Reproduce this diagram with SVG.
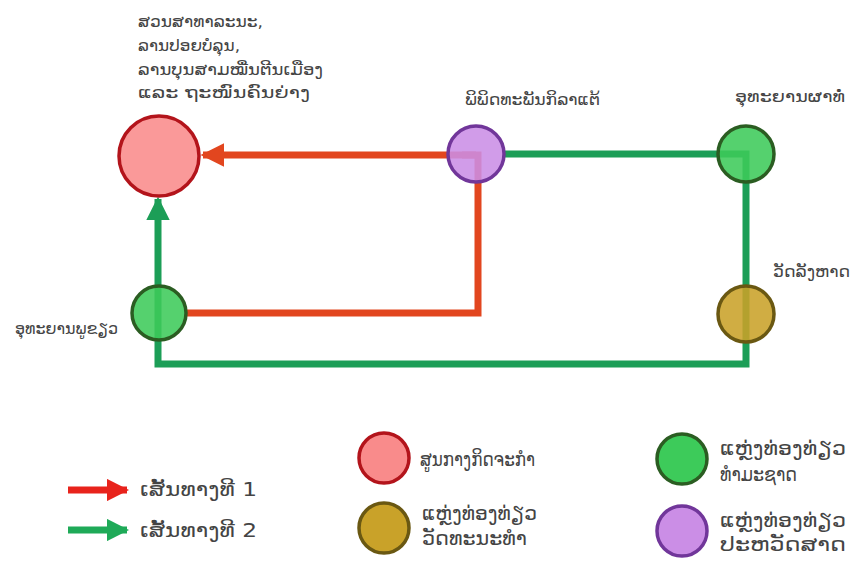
<svg xmlns="http://www.w3.org/2000/svg" width="857" height="574" viewBox="0 0 857 574">
<style>
text{font-family:"DejaVu Sans","Noto Sans",sans-serif;fill:#444}
.lbl{font-size:16px}
.leg{font-size:19px}
.r1{stroke:#e2461f;stroke-width:7;fill:none}
.r2{stroke:#1c9e57;stroke-width:7;fill:none}
.red{fill:#f98b8b;stroke:#b3141b;stroke-width:3.5}
.pur{fill:#cb8ee6;stroke:#71369a;stroke-width:3.5}
.grn{fill:#3dcb5a;stroke:#2b5d22;stroke-width:3.5}
.gld{fill:#c9a229;stroke:#6a5812;stroke-width:3.5}
.node{fill-opacity:0.88}
</style>
<defs>
<marker id="ar" viewBox="0 0 10 10" refX="9" refY="5" markerWidth="3.4" markerHeight="3.4" orient="auto"><path d="M0,0 L10,5 L0,10 Z" fill="#e2461f"/></marker>
<marker id="ag" viewBox="0 0 10 10" refX="9" refY="5" markerWidth="3.4" markerHeight="3.4" orient="auto"><path d="M0,0 L10,5 L0,10 Z" fill="#1c9e57"/></marker>
<marker id="lr" viewBox="0 0 10 10" refX="9" refY="5" markerWidth="3.2" markerHeight="3.2" orient="auto"><path d="M0,0 L10,5 L0,10 Z" fill="#e8231c"/></marker>
<marker id="lg" viewBox="0 0 10 10" refX="9" refY="5" markerWidth="3.2" markerHeight="3.2" orient="auto"><path d="M0,0 L10,5 L0,10 Z" fill="#1faa58"/></marker>
</defs>
<rect width="857" height="574" fill="#ffffff"/>
<g id="connectors">
<path class="r1" d="M476,155 L203,155" marker-end="url(#ar)"/>
<path class="r1" d="M185,313 L478,313 L478,155 L462,155"/>
<path class="r2" d="M505,154 L746,154 L746,364 L158,364 L158,199" marker-end="url(#ag)"/>
</g>
<g id="n-park">
<circle class="red node" cx="159" cy="156" r="40"/>
<text class="lbl" x="138" y="27" textLength="125" lengthAdjust="spacingAndGlyphs">ສວນສາທາລະນະ,</text>
<text class="lbl" x="138" y="51" textLength="102" lengthAdjust="spacingAndGlyphs">ລານປອຍບໍລຸນ,</text>
<text class="lbl" x="138" y="75" textLength="185" lengthAdjust="spacingAndGlyphs">ລານບຸນສາມໝື່ນຕີນເມືອງ</text>
<text class="lbl" x="138" y="98" textLength="172" lengthAdjust="spacingAndGlyphs">ແລະ ຖະໜົນຄົນຍ່າງ</text>
</g>
<g id="n-museum">
<circle class="pur node" cx="476" cy="154" r="28"/>
<text class="lbl" x="465" y="105" textLength="135" lengthAdjust="spacingAndGlyphs">ພິພິດທະພັນກິລາແຕ້</text>
</g>
<g id="n-phatho">
<circle class="grn node" cx="746" cy="154" r="28"/>
<text class="lbl" x="735" y="102" textLength="110" lengthAdjust="spacingAndGlyphs">ອຸທະຍານຜາທໍ່</text>
</g>
<g id="n-wat">
<circle class="gld node" cx="746" cy="314" r="28"/>
<text class="lbl" x="773" y="277" textLength="77" lengthAdjust="spacingAndGlyphs">ວັດລັງຫາດ</text>
</g>
<g id="n-phukhiao">
<circle class="grn node" cx="159" cy="313" r="27"/>
<text class="lbl" x="15" y="334" textLength="103" lengthAdjust="spacingAndGlyphs">ອຸທະຍານພູຂຽວ</text>
</g>
<g id="legend">
<line x1="68" y1="490" x2="127" y2="490" stroke="#e8231c" stroke-width="7" marker-end="url(#lr)"/>
<text class="leg" x="140" y="496" textLength="117" lengthAdjust="spacingAndGlyphs">ເສັ້ນທາງທີ 1</text>
<line x1="68" y1="530" x2="127" y2="530" stroke="#1faa58" stroke-width="7" marker-end="url(#lg)"/>
<text class="leg" x="140" y="537" textLength="117" lengthAdjust="spacingAndGlyphs">ເສັ້ນທາງທີ 2</text>
<circle class="red" cx="384" cy="458" r="25"/>
<text class="leg" x="420" y="466" textLength="115" lengthAdjust="spacingAndGlyphs">ສູນກາງກິດຈະກຳ</text>
<circle class="gld" cx="384" cy="528" r="25"/>
<text class="leg" x="422" y="520" textLength="115" lengthAdjust="spacingAndGlyphs">ແຫຼ່ງທ່ອງທ່ຽວ</text>
<text class="leg" x="422" y="545" textLength="105" lengthAdjust="spacingAndGlyphs">ວັດທະນະທຳ</text>
<circle class="grn" cx="682" cy="459" r="25"/>
<text class="leg" x="720" y="455" textLength="126" lengthAdjust="spacingAndGlyphs">ແຫຼ່ງທ່ອງທ່ຽວ</text>
<text class="leg" x="720" y="481" textLength="77" lengthAdjust="spacingAndGlyphs">ທຳມະຊາດ</text>
<circle class="pur" cx="682" cy="531" r="25"/>
<text class="leg" x="720" y="527" textLength="126" lengthAdjust="spacingAndGlyphs">ແຫຼ່ງທ່ອງທ່ຽວ</text>
<text class="leg" x="720" y="551" textLength="126" lengthAdjust="spacingAndGlyphs">ປະຫວັດສາດ</text>
</g>
</svg>
